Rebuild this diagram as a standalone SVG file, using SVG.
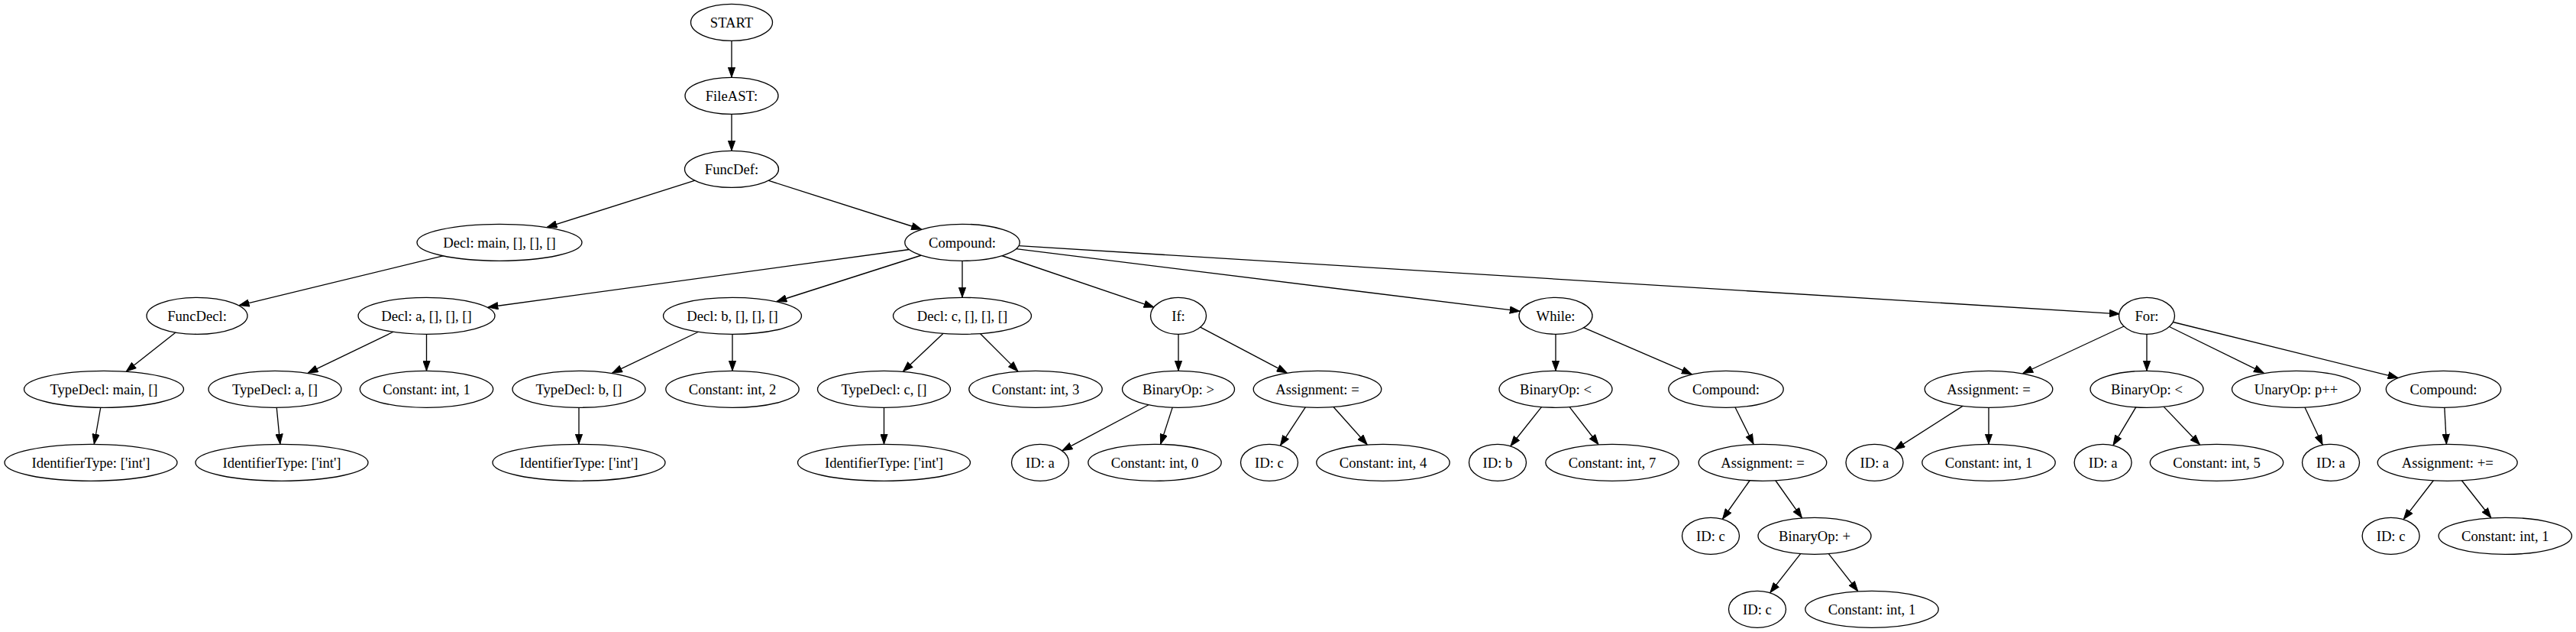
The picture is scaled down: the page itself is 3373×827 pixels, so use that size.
<svg xmlns="http://www.w3.org/2000/svg" width="3373" height="827" viewBox="0 0 3373 827">
<defs>
<style>
.n ellipse{fill:#fff;stroke:#000;stroke-width:1.33}
.n text{font-family:"Liberation Serif","Times New Roman",serif;font-size:18.67px;text-anchor:middle;fill:#000}
#edges path{fill:none;stroke:#000;stroke-width:1.33;marker-end:url(#arr)}
</style>
<marker id="arr" markerUnits="userSpaceOnUse" viewBox="0 0 14 10" markerWidth="14" markerHeight="10" refX="13.3" refY="5" orient="auto">
<path d="M0.5,0.4 L13.3,5 L0.5,9.6 z" fill="#000" stroke="#000" stroke-width="1"/>
</marker>
</defs>
<rect width="3373" height="827" fill="#fff"/>
<g id="edges">
<path d="M958,53 L958,101"/>
<path d="M958,149 L958,197"/>
<path d="M910,236.2 L716.2,297.4"/>
<path d="M1005.9,236.2 L1206.5,300"/>
<path d="M580.9,334.7 L313.3,399.6"/>
<path d="M230.3,434.8 L165.3,486"/>
<path d="M131.8,533 L123.3,581"/>
<path d="M1190.5,326.5 L639.1,402"/>
<path d="M1206.6,334 L1017,394.5"/>
<path d="M1260,341 L1260,389"/>
<path d="M1311.7,334.5 L1510.9,402.1"/>
<path d="M1330.5,325.7 L1990,407.2"/>
<path d="M1334.3,321.6 L2775.2,410.8"/>
<path d="M515.5,434 L403.2,488.1"/>
<path d="M558.5,437 L558.5,485"/>
<path d="M362.2,533 L366.8,581"/>
<path d="M915,434 L801.6,488.2"/>
<path d="M959,437 L959,485"/>
<path d="M758,533 L758,581"/>
<path d="M1235.4,436.1 L1182.5,486"/>
<path d="M1283.2,436.2 L1332.9,485.9"/>
<path d="M1157.5,533 L1157.5,581"/>
<path d="M1543,437 L1543,485"/>
<path d="M1571.2,427.9 L1685,487.9"/>
<path d="M1504.4,529.5 L1391.1,589.6"/>
<path d="M1535.3,532.9 L1519.7,581.1"/>
<path d="M1709.5,532.6 L1676.5,582.8"/>
<path d="M1745.8,532.3 L1790.1,581.7"/>
<path d="M2037,437 L2037,485"/>
<path d="M2073.5,428.7 L2215.1,489.7"/>
<path d="M2018.6,532.3 L1978,583.5"/>
<path d="M2055,532.3 L2092.9,581.5"/>
<path d="M2271.9,532.7 L2296.1,581.2"/>
<path d="M2291.3,628.5 L2255.6,679"/>
<path d="M2324.7,628.5 L2359.4,677.6"/>
<path d="M2357.8,724.3 L2317.9,775.4"/>
<path d="M2394.2,724.3 L2432.7,773.5"/>
<path d="M2781,427 L2648.9,488.5"/>
<path d="M2811,437 L2811,485"/>
<path d="M2840.5,427.5 L2964.2,488.2"/>
<path d="M2845.6,421.5 L3139.8,494.3"/>
<path d="M2570.7,530.9 L2481.1,588.1"/>
<path d="M2604,533 L2604,581"/>
<path d="M2796.9,532.6 L2767,582.6"/>
<path d="M2832.9,531.9 L2880.4,581.8"/>
<path d="M3017.8,532.8 L3041.1,582"/>
<path d="M3200.8,533 L3203.4,581"/>
<path d="M3186.5,628.5 L3147.3,679.4"/>
<path d="M3223.2,628.5 L3261.8,677.5"/>
</g>
<g id="n0" class="n"><ellipse cx="958" cy="29.3" rx="53.5" ry="24"/><text x="958" y="35.6">START</text></g>
<g id="n1" class="n"><ellipse cx="958" cy="125.3" rx="61" ry="24"/><text x="958" y="131.6">FileAST:</text></g>
<g id="n2" class="n"><ellipse cx="958" cy="221.3" rx="61.5" ry="24"/><text x="958" y="227.6">FuncDef:</text></g>
<g id="n3" class="n"><ellipse cx="654" cy="317.3" rx="108" ry="24"/><text x="654" y="323.6">Decl: main, [], [], []</text></g>
<g id="n4" class="n"><ellipse cx="1260" cy="317.3" rx="75.2" ry="24"/><text x="1260" y="323.6">Compound:</text></g>
<g id="n5" class="n"><ellipse cx="258" cy="413.3" rx="66" ry="24"/><text x="258" y="419.6">FuncDecl:</text></g>
<g id="n6" class="n"><ellipse cx="136" cy="509.3" rx="104.5" ry="24"/><text x="136" y="515.6">TypeDecl: main, []</text></g>
<g id="n7" class="n"><ellipse cx="119" cy="605.3" rx="113" ry="24"/><text x="119" y="611.6">IdentifierType: ['int']</text></g>
<g id="n8" class="n"><ellipse cx="558.5" cy="413.3" rx="89.5" ry="24"/><text x="558.5" y="419.6">Decl: a, [], [], []</text></g>
<g id="n9" class="n"><ellipse cx="360" cy="509.3" rx="87" ry="24"/><text x="360" y="515.6">TypeDecl: a, []</text></g>
<g id="n10" class="n"><ellipse cx="369" cy="605.3" rx="113" ry="24"/><text x="369" y="611.6">IdentifierType: ['int']</text></g>
<g id="n11" class="n"><ellipse cx="558.5" cy="509.3" rx="87.2" ry="24"/><text x="558.5" y="515.6">Constant: int, 1</text></g>
<g id="n12" class="n"><ellipse cx="959" cy="413.3" rx="90.5" ry="24"/><text x="959" y="419.6">Decl: b, [], [], []</text></g>
<g id="n13" class="n"><ellipse cx="758" cy="509.3" rx="87" ry="24"/><text x="758" y="515.6">TypeDecl: b, []</text></g>
<g id="n14" class="n"><ellipse cx="758" cy="605.3" rx="113" ry="24"/><text x="758" y="611.6">IdentifierType: ['int']</text></g>
<g id="n15" class="n"><ellipse cx="959" cy="509.3" rx="87.2" ry="24"/><text x="959" y="515.6">Constant: int, 2</text></g>
<g id="n16" class="n"><ellipse cx="1260" cy="413.3" rx="90.5" ry="24"/><text x="1260" y="419.6">Decl: c, [], [], []</text></g>
<g id="n17" class="n"><ellipse cx="1157.5" cy="509.3" rx="87" ry="24"/><text x="1157.5" y="515.6">TypeDecl: c, []</text></g>
<g id="n18" class="n"><ellipse cx="1157.5" cy="605.3" rx="113" ry="24"/><text x="1157.5" y="611.6">IdentifierType: ['int']</text></g>
<g id="n19" class="n"><ellipse cx="1356" cy="509.3" rx="87.2" ry="24"/><text x="1356" y="515.6">Constant: int, 3</text></g>
<g id="n20" class="n"><ellipse cx="1543" cy="413.3" rx="36.5" ry="24"/><text x="1543" y="419.6">If:</text></g>
<g id="n21" class="n"><ellipse cx="1543" cy="509.3" rx="73.5" ry="24"/><text x="1543" y="515.6">BinaryOp: &gt;</text></g>
<g id="n22" class="n"><ellipse cx="1362" cy="605.3" rx="37.5" ry="24"/><text x="1362" y="611.6">ID: a</text></g>
<g id="n23" class="n"><ellipse cx="1512" cy="605.3" rx="87.2" ry="24"/><text x="1512" y="611.6">Constant: int, 0</text></g>
<g id="n24" class="n"><ellipse cx="1725" cy="509.3" rx="83.8" ry="24"/><text x="1725" y="515.6">Assignment: =</text></g>
<g id="n25" class="n"><ellipse cx="1662" cy="605.3" rx="37.5" ry="24"/><text x="1662" y="611.6">ID: c</text></g>
<g id="n26" class="n"><ellipse cx="1811" cy="605.3" rx="87.2" ry="24"/><text x="1811" y="611.6">Constant: int, 4</text></g>
<g id="n27" class="n"><ellipse cx="2037" cy="413.3" rx="48" ry="24"/><text x="2037" y="419.6">While:</text></g>
<g id="n28" class="n"><ellipse cx="2037" cy="509.3" rx="74" ry="24"/><text x="2037" y="515.6">BinaryOp: &lt;</text></g>
<g id="n29" class="n"><ellipse cx="1961" cy="605.3" rx="37.5" ry="24"/><text x="1961" y="611.6">ID: b</text></g>
<g id="n30" class="n"><ellipse cx="2111" cy="605.3" rx="87.2" ry="24"/><text x="2111" y="611.6">Constant: int, 7</text></g>
<g id="n31" class="n"><ellipse cx="2260" cy="509.3" rx="75.2" ry="24"/><text x="2260" y="515.6">Compound:</text></g>
<g id="n32" class="n"><ellipse cx="2308" cy="605.3" rx="83.8" ry="24"/><text x="2308" y="611.6">Assignment: =</text></g>
<g id="n33" class="n"><ellipse cx="2240" cy="701.3" rx="37.5" ry="24"/><text x="2240" y="707.6">ID: c</text></g>
<g id="n34" class="n"><ellipse cx="2376" cy="701.3" rx="74" ry="24"/><text x="2376" y="707.6">BinaryOp: +</text></g>
<g id="n35" class="n"><ellipse cx="2301" cy="797.3" rx="37.5" ry="24"/><text x="2301" y="803.6">ID: c</text></g>
<g id="n36" class="n"><ellipse cx="2451" cy="797.3" rx="87.2" ry="24"/><text x="2451" y="803.6">Constant: int, 1</text></g>
<g id="n37" class="n"><ellipse cx="2811" cy="413.3" rx="36.5" ry="24"/><text x="2811" y="419.6">For:</text></g>
<g id="n38" class="n"><ellipse cx="2604" cy="509.3" rx="83.8" ry="24"/><text x="2604" y="515.6">Assignment: =</text></g>
<g id="n39" class="n"><ellipse cx="2454.5" cy="605.3" rx="37.5" ry="24"/><text x="2454.5" y="611.6">ID: a</text></g>
<g id="n40" class="n"><ellipse cx="2604" cy="605.3" rx="87.2" ry="24"/><text x="2604" y="611.6">Constant: int, 1</text></g>
<g id="n41" class="n"><ellipse cx="2811" cy="509.3" rx="74" ry="24"/><text x="2811" y="515.6">BinaryOp: &lt;</text></g>
<g id="n42" class="n"><ellipse cx="2753.6" cy="605.3" rx="37.5" ry="24"/><text x="2753.6" y="611.6">ID: a</text></g>
<g id="n43" class="n"><ellipse cx="2902.5" cy="605.3" rx="87.2" ry="24"/><text x="2902.5" y="611.6">Constant: int, 5</text></g>
<g id="n44" class="n"><ellipse cx="3006.5" cy="509.3" rx="84" ry="24"/><text x="3006.5" y="515.6">UnaryOp: p++</text></g>
<g id="n45" class="n"><ellipse cx="3052" cy="605.3" rx="37.5" ry="24"/><text x="3052" y="611.6">ID: a</text></g>
<g id="n46" class="n"><ellipse cx="3199.5" cy="509.3" rx="75.2" ry="24"/><text x="3199.5" y="515.6">Compound:</text></g>
<g id="n47" class="n"><ellipse cx="3204.7" cy="605.3" rx="91.5" ry="24"/><text x="3204.7" y="611.6">Assignment: +=</text></g>
<g id="n48" class="n"><ellipse cx="3130.6" cy="701.3" rx="37.5" ry="24"/><text x="3130.6" y="707.6">ID: c</text></g>
<g id="n49" class="n"><ellipse cx="3280.3" cy="701.3" rx="87.2" ry="24"/><text x="3280.3" y="707.6">Constant: int, 1</text></g>
</svg>
